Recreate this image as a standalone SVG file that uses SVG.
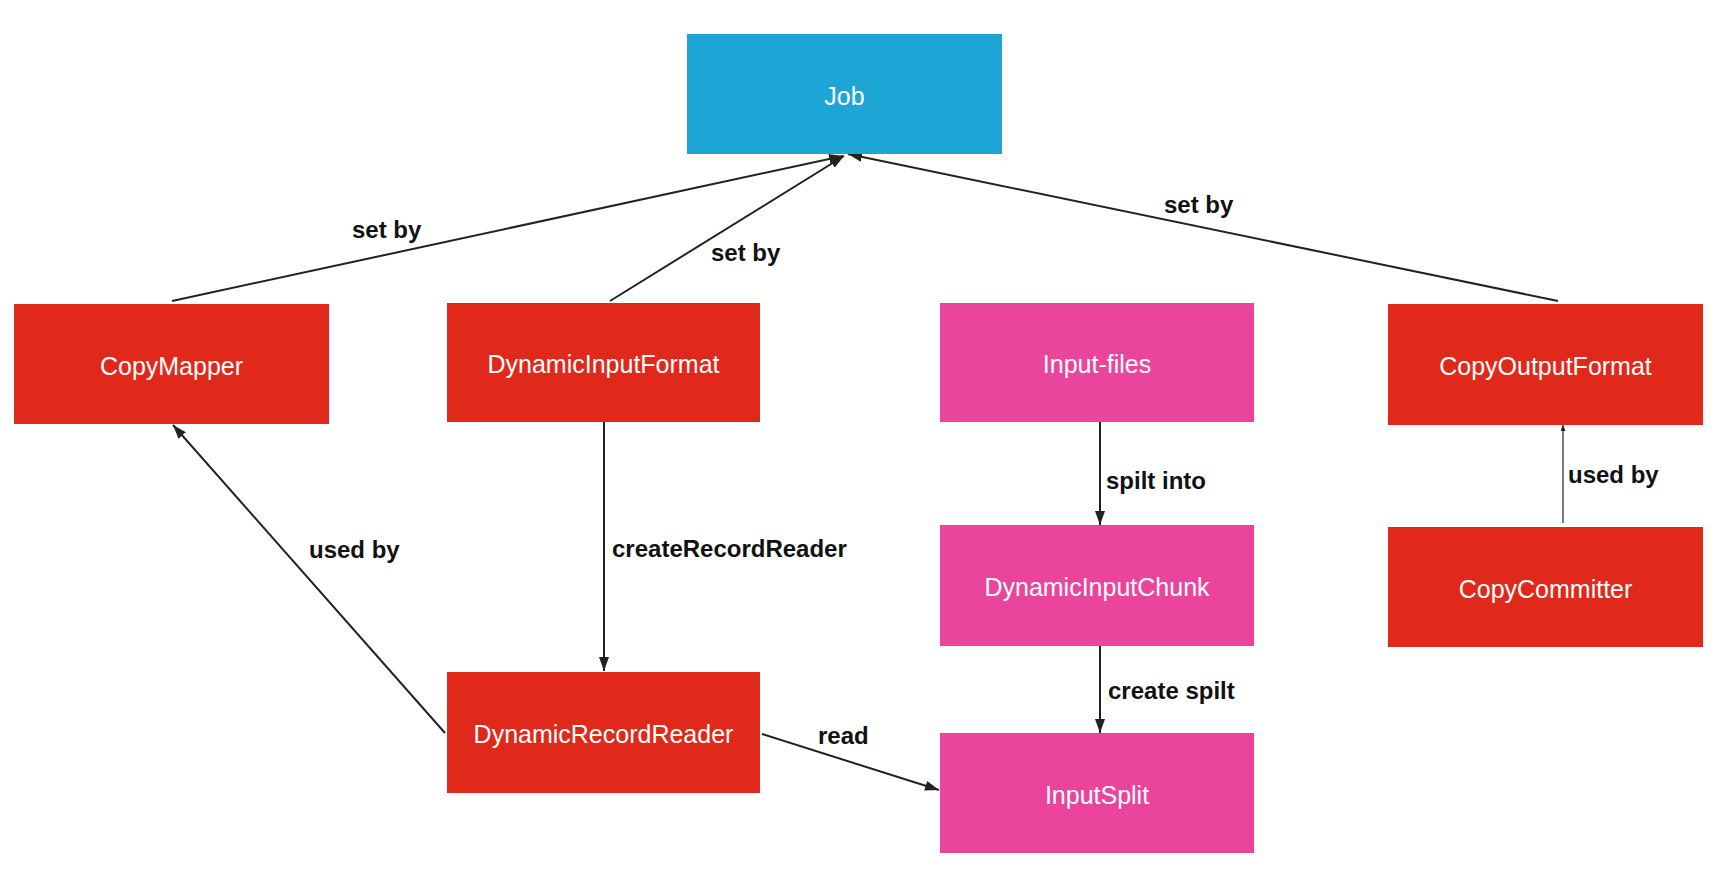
<svg xmlns="http://www.w3.org/2000/svg" width="1724" height="876" viewBox="0 0 1724 876">
<style>
.box-red{fill:#E0291B}
.box-pink{fill:#EA449D}
.box-blue{fill:#1DA5D6}
.nlabel{font-family:"Liberation Sans",Arial,sans-serif;font-size:25px;fill:#fff;text-anchor:middle}
.elabel{font-family:"Liberation Sans",Arial,sans-serif;font-size:24px;font-weight:bold;fill:#111}
.edge{stroke:#222;stroke-width:2;fill:none}
.thin{stroke:#222;stroke-width:1.2;fill:none}
</style>
<defs>
<marker id="arr" viewBox="0 0 14 10" refX="14" refY="5" markerWidth="14" markerHeight="10" markerUnits="userSpaceOnUse" orient="auto"><path d="M0,0 L14,5 L0,10 z" fill="#222"/></marker>
<marker id="arrs" viewBox="0 0 6 5" refX="6" refY="2.5" markerWidth="6" markerHeight="5" markerUnits="userSpaceOnUse" orient="auto"><path d="M0,0 L6,2.5 L0,5 z" fill="#222"/></marker>
</defs>
<rect width="1724" height="876" fill="#fff"/>
<g id="connectors">
<line class="edge" x1="172" y1="301" x2="843" y2="156" marker-end="url(#arr)"/>
<line class="edge" x1="610" y1="301" x2="844" y2="156" marker-end="url(#arr)"/>
<line class="edge" x1="1558" y1="301" x2="848" y2="154" marker-end="url(#arr)"/>
<line class="edge" x1="604" y1="422" x2="604" y2="671" stroke-width="1.6" marker-end="url(#arr)"/>
<line class="edge" x1="445" y1="733" x2="173" y2="425" marker-end="url(#arr)"/>
<line class="edge" x1="1100" y1="422" x2="1100" y2="525" stroke-width="1.6" marker-end="url(#arr)"/>
<line class="edge" x1="1100" y1="646" x2="1100" y2="733" stroke-width="1.6" marker-end="url(#arr)"/>
<line class="edge" x1="762" y1="734" x2="939" y2="790" marker-end="url(#arr)"/>
<line class="thin" x1="1563" y1="523" x2="1563" y2="425" marker-end="url(#arrs)"/>
<text class="elabel" x="352" y="238">set by</text>
<text class="elabel" x="711" y="261">set by</text>
<text class="elabel" x="1164" y="213">set by</text>
<text class="elabel" x="309" y="558">used by</text>
<text class="elabel" x="612" y="557">createRecordReader</text>
<text class="elabel" x="1106" y="489">spilt into</text>
<text class="elabel" x="1568" y="483">used by</text>
<text class="elabel" x="1108" y="699">create spilt</text>
<text class="elabel" x="818" y="744">read</text>
</g>
<g id="job"><rect class="box-blue" x="687" y="34" width="315" height="120"/><text class="nlabel" x="844.5" y="105">Job</text></g>
<g id="copymapper"><rect class="box-red" x="14" y="304" width="315" height="120"/><text class="nlabel" x="171.5" y="375">CopyMapper</text></g>
<g id="dynamicinputformat"><rect class="box-red" x="447" y="303" width="313" height="119"/><text class="nlabel" x="603.5" y="373">DynamicInputFormat</text></g>
<g id="inputfiles"><rect class="box-pink" x="940" y="303" width="314" height="119"/><text class="nlabel" x="1097" y="373">Input-files</text></g>
<g id="copyoutputformat"><rect class="box-red" x="1388" y="304" width="315" height="121"/><text class="nlabel" x="1545.5" y="375">CopyOutputFormat</text></g>
<g id="dynamicinputchunk"><rect class="box-pink" x="940" y="525" width="314" height="121"/><text class="nlabel" x="1097" y="596">DynamicInputChunk</text></g>
<g id="copycommitter"><rect class="box-red" x="1388" y="527" width="315" height="120"/><text class="nlabel" x="1545.5" y="598">CopyCommitter</text></g>
<g id="dynamicrecordreader"><rect class="box-red" x="447" y="672" width="313" height="121"/><text class="nlabel" x="603.5" y="743">DynamicRecordReader</text></g>
<g id="inputsplit"><rect class="box-pink" x="940" y="733" width="314" height="120"/><text class="nlabel" x="1097" y="804">InputSplit</text></g>
</svg>
